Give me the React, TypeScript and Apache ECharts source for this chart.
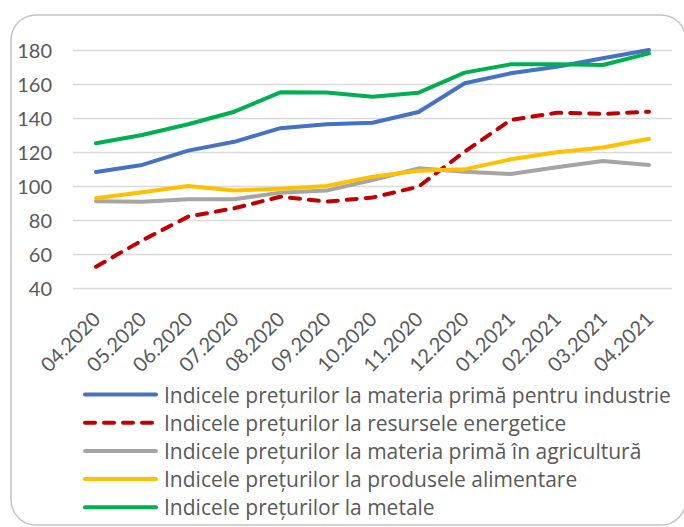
import React, { useEffect, useRef } from "react";
import * as echarts from "echarts";

const months = [
  "04.2020", "05.2020", "06.2020", "07.2020", "08.2020", "09.2020", "10.2020",
  "11.2020", "12.2020", "01.2021", "02.2021", "03.2021", "04.2021",
];

const industrie = [108.2, 112.4, 120.8, 126, 134, 136.3, 137.2, 143.5, 160.4, 166.3, 170.2, 175.1, 180];
const energetice = [52.5, 68, 82, 86.9, 93.7, 90.8, 93.2, 99.6, 120.2, 138.8, 143.1, 142.4, 143.7];
const agricultura = [91, 90.8, 92.2, 92.2, 96.1, 97.3, 103.5, 110.4, 108.4, 107.1, 111, 114.7, 112.4];
const alimentare = [92.8, 96.3, 100, 97.3, 98.4, 100, 105.5, 109, 109.8, 115.7, 119.8, 122.6, 127.8];
const metale = [125.1, 130, 136.3, 143.7, 155.1, 155, 152.5, 154.9, 166.7, 171.6, 171.6, 171.2, 178];

const seriesNames = [
  "Indicele prețurilor la materia primă pentru industrie",
  "Indicele prețurilor la resursele energetice",
  "Indicele prețurilor la materia primă în agricultură",
  "Indicele prețurilor la produsele alimentare",
  "Indicele prețurilor la metale",
];
const seriesData = [industrie, energetice, agricultura, alimentare, metale];
const seriesColors = ["#4472C4", "#C00000", "#A5A5A5", "#FFC000", "#00B050"];

const FONT = "Lato, 'Liberation Sans', Arial, sans-serif";
const LEGEND_FONT = "'Open Sans', Lato, sans-serif";

export default function App() {
  const ref = useRef<HTMLDivElement>(null);
  useEffect(() => {
    if (!ref.current) return;
    const chart = echarts.init(ref.current, null, { renderer: "svg" });
    chart.setOption({
      animation: false,
      backgroundColor: "#ffffff",
      graphic: [
        {
          type: "rect",
          shape: { x: 11, y: 15, width: 675, height: 510, r: 25 },
          style: { fill: "none", stroke: "#c4c4c4", lineWidth: 1.5 },
          silent: true,
          z: -1,
        },
      ],
      grid: { left: 73, right: 12, top: 50, bottom: 239, containLabel: false },
      xAxis: {
        type: "category",
        data: months,
        boundaryGap: true,
        axisLine: { show: false },
        axisTick: { show: false },
        axisLabel: {
          rotate: 45,
          margin: 27,
          color: "#595959",
          fontSize: 20,
          fontFamily: FONT,
          interval: 0,
        },
      },
      yAxis: {
        type: "value",
        min: 40,
        max: 180,
        interval: 20,
        axisLine: { show: false },
        axisTick: { show: false },
        axisLabel: { color: "#595959", fontSize: 20, fontFamily: FONT, margin: 21 },
        splitLine: { lineStyle: { color: "#d9d9d9", width: 1.3 } },
      },
      legend: {
        orient: "vertical",
        left: 83,
        top: 384,
        width: 600,
        height: 160,
        padding: 0,
        itemWidth: 71,
        itemHeight: 20,
        itemGap: 7.2,
        itemStyle: { opacity: 0 },
        lineStyle: { width: 4 },
        textStyle: {
          color: "#595959",
          fontSize: 21,
          lineHeight: 20,
          fontFamily: LEGEND_FONT,
          padding: [0, 0, 0, 3],
        },
        data: seriesNames,
      },
      series: seriesNames.map((name, i) => ({
        name,
        type: "line",
        data: seriesData[i],
        symbol: "none",
        color: seriesColors[i],
        lineStyle: {
          color: seriesColors[i],
          width: 4,
          type: i === 1 ? [10, 9] : "solid",
          cap: "round",
          join: "round",
        },
      })),
    });
    return () => chart.dispose();
  }, []);
  return (
    <div
      ref={ref}
      style={{ position: "fixed", left: 0, top: 0, width: 684, height: 527 }}
    />
  );
}
